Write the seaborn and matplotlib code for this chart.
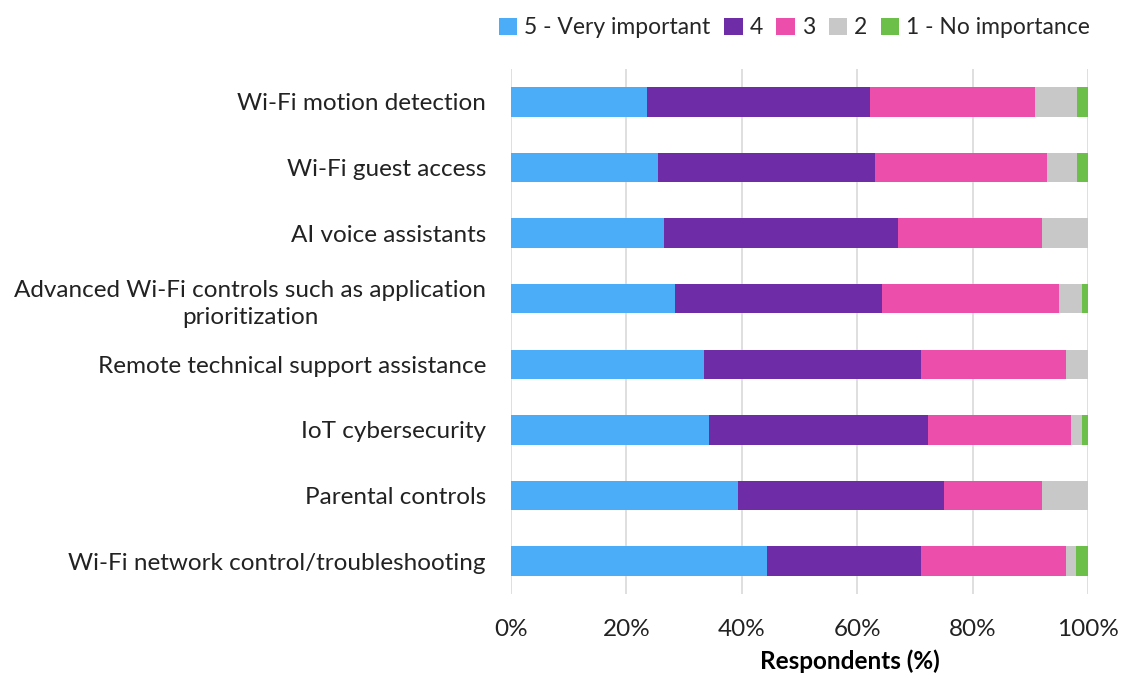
import matplotlib
matplotlib.use("Agg")
import matplotlib.pyplot as plt
import seaborn as sns
import pandas as pd
import numpy as np
from matplotlib.patches import Patch
from matplotlib.ticker import PercentFormatter

categories = [
    "Wi-Fi motion detection",
    "Wi-Fi guest access",
    "AI voice assistants",
    "Advanced Wi-Fi controls such as application\nprioritization",
    "Remote technical support assistance",
    "IoT cybersecurity",
    "Parental controls",
    "Wi-Fi network control/troubleshooting",
]
series_names = ["5 - Very important", "4", "3", "2", "1 - No importance"]
very_important = [23.5, 25.4, 26.6, 28.4, 33.5, 34.4, 39.3, 44.4]
four = [38.7, 37.7, 40.5, 35.9, 37.6, 37.8, 35.8, 26.7]
three = [28.7, 29.8, 24.9, 30.6, 25.0, 24.8, 16.9, 25.0]
two = [7.2, 5.2, 8.0, 4.0, 3.9, 1.9, 8.0, 1.9]
no_importance = [1.9, 1.9, 0.0, 1.1, 0.0, 1.1, 0.0, 2.0]
colors = ["#4BACF7", "#6E2DA6", "#EC4FAB", "#C8C8C8", "#6CC04A"]

sns.set_theme(style="white")
plt.rcParams['font.family'] = ['Lato', 'DejaVu Sans']

values = np.array([very_important, four, three, two, no_importance])
cum = np.cumsum(values, axis=0)

fig = plt.figure(figsize=(11.27, 6.77), dpi=100)
ax = fig.add_axes([0.4534, 0.1229, 0.5120, 0.7749])

for i in range(len(series_names) - 1, -1, -1):
    df = pd.DataFrame({"cat": categories, "val": cum[i]})
    sns.barplot(data=df, x="val", y="cat", orient="h", color=colors[i],
                saturation=1, width=0.45, linewidth=0, ax=ax, order=categories)

ax.set_xlim(0, 100)
ax.set_xticks(np.arange(0, 101, 20))
ax.xaxis.set_major_formatter(PercentFormatter(decimals=0))
ax.grid(axis="x", color="#D9D9D9", linewidth=1.2)
ax.set_axisbelow(True)
for s in ax.spines.values():
    s.set_visible(False)
ax.set_ylabel("")
ax.set_xlabel("Respondents (%)", fontsize=17.5, fontweight="bold", color="black")
ax.xaxis.set_label_coords(0.587, -0.106)
ax.tick_params(axis="both", labelsize=17.5, colors="#222222", length=0)
ax.tick_params(axis="y", pad=18)
ax.tick_params(axis="x", pad=18)
for lab in ax.get_yticklabels():
    lab.set_multialignment("center")
    lab.set_linespacing(1.35)

handles = [Patch(facecolor=c, edgecolor="none") for c in colors]
fig.legend(handles, series_names, loc="upper center", bbox_to_anchor=(0.705, 1.005),
           ncol=5, frameon=False, fontsize=16.5, handlelength=0.8, handleheight=0.8,
           handletextpad=0.3, columnspacing=0.6)

fig.savefig("out.png", dpi=100)
